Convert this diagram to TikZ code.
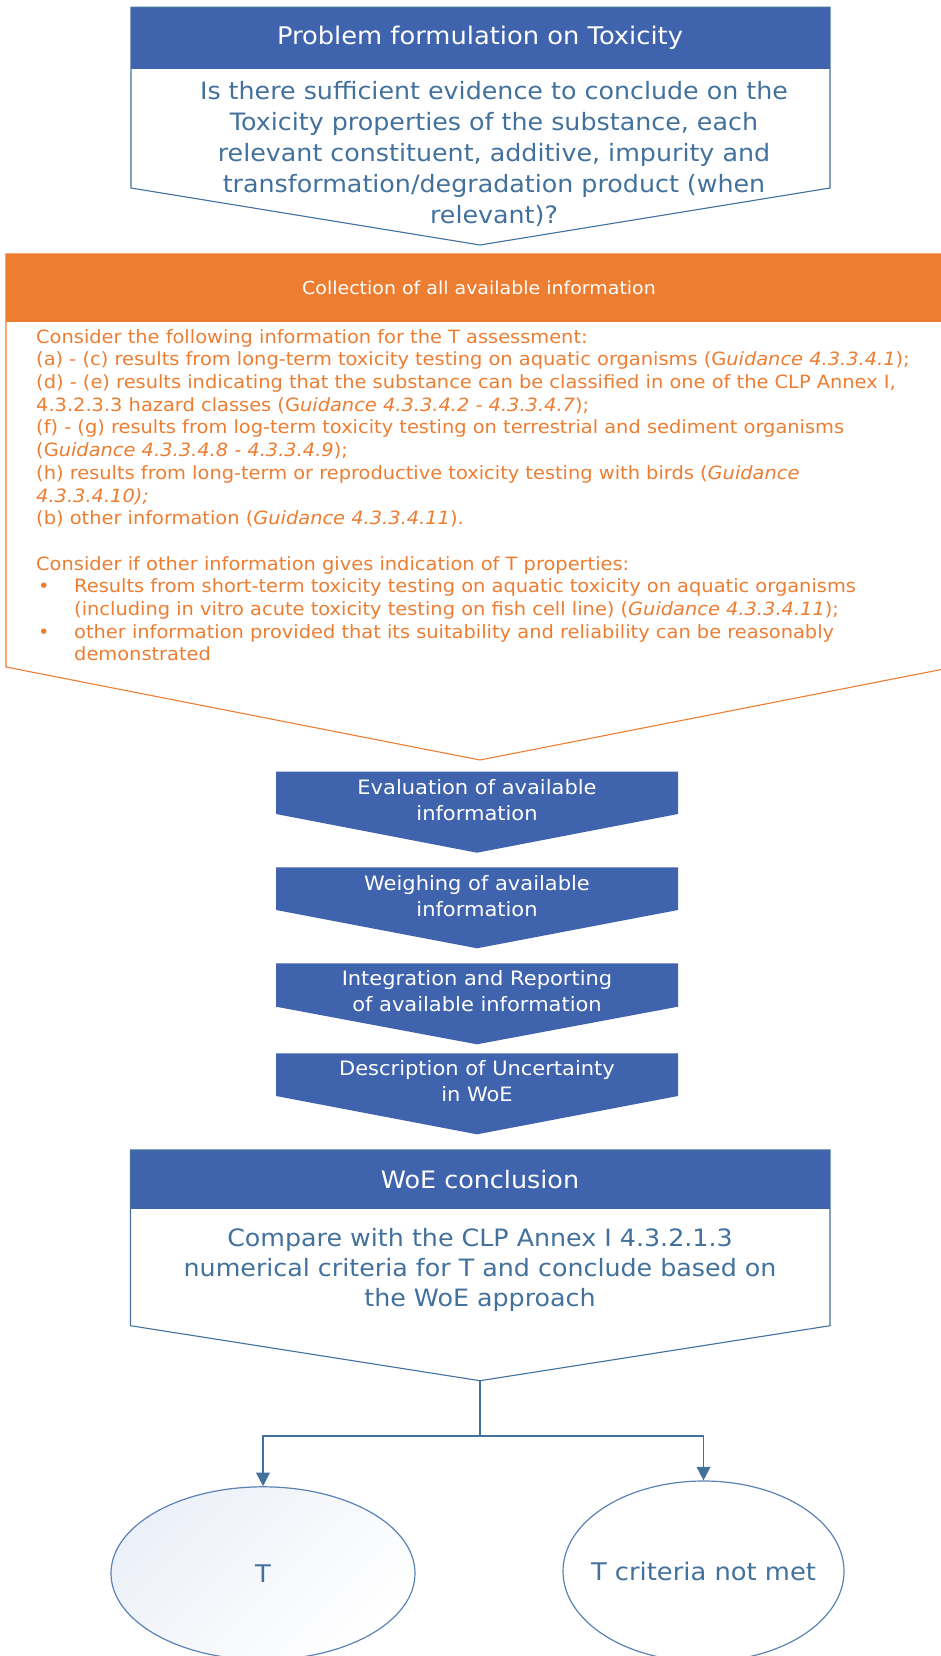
\documentclass[tikz,border=0pt]{standalone}
\usepackage{fontspec}
\setmainfont[FakeStretch=1.06]{DejaVu Sans}
\usetikzlibrary{shapes.geometric,arrows.meta}
\definecolor{hblue}{HTML}{3F63AD}
\definecolor{tblue}{HTML}{41719C}
\definecolor{eblue}{HTML}{5A82B4}
\definecolor{orng}{HTML}{ED7D31}
\definecolor{shadeblue}{HTML}{ECF0F8}
\newcommand\fsz[2]{\fontsize{#1}{#2}\selectfont}
\begin{document}
\begin{tikzpicture}[x=1pt,y=-1pt,
  outl/.style={draw=tblue, line width=1.1pt},
  headtxt/.style={text=white, inner sep=0pt},
  bluetxt/.style={text=tblue, align=center, inner sep=0pt},
  stepbox/.style={fill=hblue},
  steptxt/.style={text=white, align=center, inner sep=0pt, font=\fsz{19.8}{26}},
  conn/.style={draw=tblue, line width=1.8pt},
  tip/.style={-{Triangle[length=13.5pt,width=13.5pt]}},
  res/.style={ellipse, draw=eblue, line width=1.2pt, inner sep=0pt}
]
\clip (0,0) rectangle (941,1656);
\fill[white] (0,0) rectangle (941,1656);

% ---- Problem formulation box
\fill[hblue] (131,7.3) rectangle (830,69);
\draw[outl] (131,7.3) -- (830,7.3) -- (830,188) -- (480,245) -- (131,188) -- cycle;
\node[headtxt, font=\fsz{24.3}{28}] (pftitle) at (480,37.5) {Problem formulation on Toxicity};
\node[bluetxt, font=\fsz{23.9}{30.9}] (pfq) at (494,154) {Is there sufficient evidence to conclude on the\\Toxicity properties of the substance, each\\relevant constituent, additive, impurity and\\transformation/degradation product (when\\relevant)?};

% ---- Collection box
\fill[orng] (6,254) rectangle (960,321.7);
\draw[draw=orng, line width=1.1pt] (960,254) -- (6,254) -- (6,667) -- (480,760) -- (954,667) -- (960,667);
\node[headtxt, font=\fsz{17.9}{21}] (coltitle) at (479,288) {Collection of all available information};
\node[anchor=north west, inner sep=0pt, align=left, text=orng, font=\fsz{18.3}{22.7}] (colbody) at (36,329) {Consider the following information for the T assessment:\\
(a) - (c) results from long-term toxicity testing on aquatic organisms (G\textit{uidance 4.3.3.4.1});\\
(d) - (e) results indicating that the substance can be classified in one of the CLP Annex I,\\
4.3.2.3.3 hazard classes (G\textit{uidance 4.3.3.4.2 - 4.3.3.4.7});\\
(f) - (g) results from log-term toxicity testing on terrestrial and sediment organisms\\
(G\textit{uidance 4.3.3.4.8 - 4.3.3.4.9});\\
(h) results from long-term or reproductive toxicity testing with birds (\textit{Guidance}\\
\textit{4.3.3.4.10);}\\
(b) other information (\textit{Guidance 4.3.3.4.11}).\\[22.7pt]
Consider if other information gives indication of T properties:\\
\hspace*{2pt}\makebox[36pt][l]{•}Results from short-term toxicity testing on aquatic toxicity on aquatic organisms\\
\hspace*{38pt}(including in vitro acute toxicity testing on fish cell line) (\textit{Guidance 4.3.3.4.11});\\
\hspace*{2pt}\makebox[36pt][l]{•}other information provided that its suitability and reliability can be reasonably\\
\hspace*{38pt}demonstrated};

% ---- Step boxes
\foreach \n/\t/\s/\p/\ty/\txt in {
  1/771.7/814/852.7/799.7/{Evaluation of available\\information},
  2/867.3/910/948.3/895.8/{Weighing of available\\information},
  3/963.3/1006.7/1044.3/991.2/{Integration and Reporting\\of available information},
  4/1053.3/1096/1134.3/1080.8/{Description of Uncertainty\\in WoE}}{
  \fill[stepbox] (276,\t) -- (678,\t) -- (678,\s) -- (477,\p) -- (276,\s) -- cycle;
  \node[steptxt] (step\n) at (477,\ty) {\txt};
}

% ---- WoE conclusion box
\fill[hblue] (130.5,1150) rectangle (830,1209);
\draw[outl] (130.5,1150) -- (830,1150) -- (830,1325.7) -- (480,1380.7) -- (130.5,1325.7) -- cycle;
\coordinate (woetip) at (480,1380.7);
\node[headtxt, font=\fsz{24}{30}] (woetitle) at (480,1179.3) {WoE conclusion};
\node[bluetxt, font=\fsz{23.9}{29.7}] (woebody) at (480,1270) {Compare with the CLP Annex I 4.3.2.1.3\\numerical criteria for T and conclude based on\\the WoE approach};

% ---- Results
\node[res, minimum width=304pt, minimum height=173pt, top color=shadeblue, bottom color=white, shading angle=45] (tres) at (263,1573.3) {};
\node[bluetxt, font=\fsz{24.3}{30}] (tlab) at (tres.center) {T};
\node[res, fill=white, minimum width=281pt, minimum height=180.6pt] (nres) at (703.5,1571.3) {};
\node[bluetxt, font=\fsz{24.3}{30}] (nlab) at (nres.center) {T criteria not met};

% ---- Connectors
\coordinate (split) at (480,1435.7);
\draw[conn] (woetip) -- (split);
\draw[conn, tip] (split) -| (tres.north);
\draw[conn, tip] (split) -| (nres.north);
\end{tikzpicture}
\end{document}
